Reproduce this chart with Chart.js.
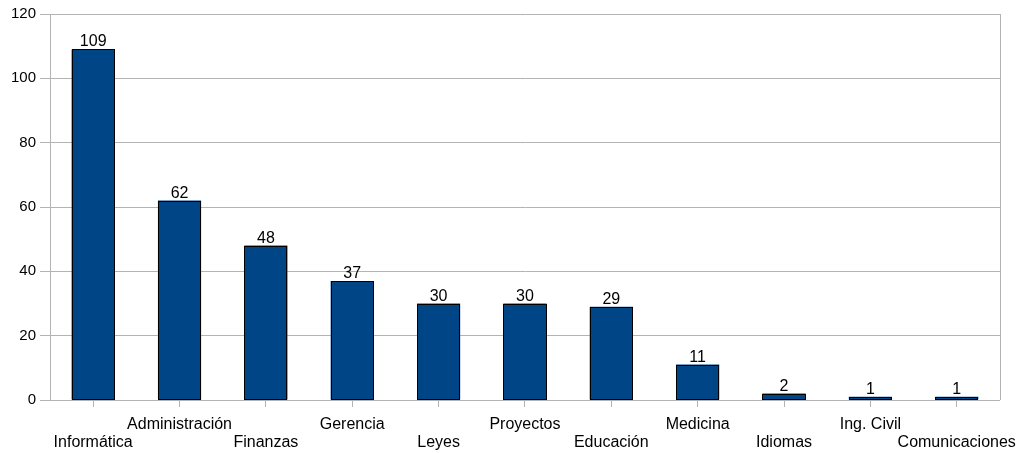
<!DOCTYPE html>
<html>
<head>
<meta charset="utf-8">
<script src="https://cdn.jsdelivr.net/npm/chart.js@4.4.1/dist/chart.umd.min.js"></script>
<style>
  html, body { margin: 0; padding: 0; background: #ffffff; }
  #wrap { width: 1026px; height: 453px; }
</style>
</head>
<body>
<div id="wrap"><canvas id="c" width="1026" height="453"></canvas></div>
<script>
// Categories and counts
const categories = ['Informática', 'Administración', 'Finanzas', 'Gerencia', 'Leyes', 'Proyectos',
                    'Educación', 'Medicina', 'Idiomas', 'Ing. Civil', 'Comunicaciones'];
const counts = [109, 62, 48, 37, 30, 30, 29, 11, 2, 1, 1];
const yTicks = [0, 20, 40, 60, 80, 100, 120];

const FONT = '"Liberation Sans", Arial, sans-serif';

// Right edge of the plot frame, crisp bar outlines and value labels above each bar
const decorations = {
  id: 'decorations',
  afterDatasetsDraw(chart) {
    const { ctx, chartArea } = chart;
    ctx.save();
    ctx.strokeStyle = '#b3b3b3';
    ctx.lineWidth = 1;
    ctx.beginPath();
    ctx.moveTo(Math.round(chartArea.right) + 0.5, chartArea.top);
    ctx.lineTo(Math.round(chartArea.right) + 0.5, chartArea.bottom);
    ctx.stroke();

    const meta = chart.getDatasetMeta(0);
    ctx.strokeStyle = '#000000';
    meta.data.forEach((bar) => {
      const l = Math.round(bar.x - bar.width / 2) + 0.5;
      const r = Math.round(bar.x + bar.width / 2) - 0.5;
      const t = Math.round(bar.y) + 0.5;
      const b = Math.round(bar.base) - 0.5;
      ctx.strokeRect(l, t, r - l, b - t);
    });

    ctx.fillStyle = '#000000';
    ctx.font = '16px ' + FONT;
    ctx.textAlign = 'center';
    ctx.textBaseline = 'alphabetic';
    meta.data.forEach((bar, i) => {
      ctx.fillText(String(counts[i]), bar.x, bar.y - 3);
    });
    ctx.restore();
  }
};

new Chart(document.getElementById('c'), {
  type: 'bar',
  data: {
    labels: categories,
    datasets: [{
      data: counts,
      backgroundColor: '#004586',
      borderWidth: 0,
      categoryPercentage: 1,
      barPercentage: 0.5
    }]
  },
  options: {
    responsive: false,
    animation: false,
    events: [],
    layout: { padding: { left: 0, right: 25, top: 14, bottom: 0 } },
    plugins: { legend: { display: false }, tooltip: { enabled: false } },
    scales: {
      x: {
        grid: {
          offset: false,
          drawOnChartArea: false,
          drawTicks: true,
          tickLength: 7,
          color: '#b3b3b3'
        },
        border: { display: true, color: '#b3b3b3' },
        ticks: {
          autoSkip: false,
          maxRotation: 0,
          minRotation: 0,
          padding: 9,
          color: '#000000',
          font: { family: FONT, size: 16, lineHeight: 1.125 },
          callback: (v, i) => (i % 2 === 0 ? ['', categories[i]] : [categories[i], ''])
        },
        afterFit: (s) => { s.height = 53; }
      },
      y: {
        min: 0,
        max: 120,
        afterBuildTicks: (s) => { s.ticks = yTicks.map(v => ({ value: v })); },
        grid: {
          color: '#b3b3b3',
          drawTicks: true,
          tickLength: 10
        },
        border: { display: true, color: '#b3b3b3' },
        ticks: {
          padding: 4,
          color: '#000000',
          font: { family: FONT, size: 15 }
        },
        afterFit: (s) => { s.width = 50; }
      }
    }
  },
  plugins: [decorations]
});
</script>
</body>
</html>
